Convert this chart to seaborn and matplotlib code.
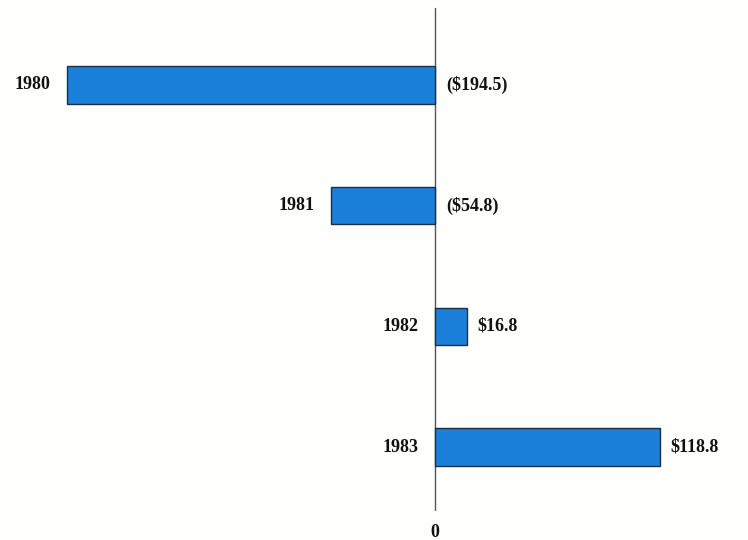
import matplotlib
matplotlib.use("Agg")
import matplotlib.pyplot as plt
import seaborn as sns
import pandas as pd

years = ["1980", "1981", "1982", "1983"]
values = [-194.5, -54.8, 16.8, 118.8]
value_labels = ["($194.5)", "($54.8)", "$16.8", "$118.8"]

sns.set_style("white")
plt.rcParams["font.family"] = ["Liberation Serif", "DejaVu Serif"]

df = pd.DataFrame({"year": years, "value": values})

fig = plt.figure(figsize=(7.48, 5.40), dpi=100)
ax = fig.add_axes([0, 0, 1, 1])
sns.barplot(data=df, x="value", y="year", orient="h", color="#1b80da",
            saturation=1, width=0.31, edgecolor="#1d2f45", linewidth=1.0, ax=ax)

ax.set_xlim(-435 / 1.89, (748 - 435) / 1.89)
ax.set_ylim(3.77, -0.704)
ax.axvline(0, ymin=1 - (3.52 + 0.704) / (3.77 + 0.704), ymax=1 - (-0.638 + 0.704) / (3.77 + 0.704),
           color="#555555", linewidth=1.0, zorder=0)

for i, (v, yl, vl) in enumerate(zip(values, years, value_labels)):
    left = min(v, 0)
    right = max(v, 0)
    ax.annotate(yl, (left, i), xytext=(-12, 0), textcoords="offset points",
                ha="right", va="center", fontsize=13, fontweight="bold", color="#111111")
    ax.annotate(vl, (right, i), xytext=(8, 0), textcoords="offset points",
                ha="left", va="center", fontsize=13, fontweight="bold", color="#111111")

ax.text(0, 3.71, "0", ha="center", va="center", fontsize=13, fontweight="bold", color="#111111")

ax.set_xlabel("")
ax.set_ylabel("")
ax.set_xticks([])
ax.set_yticks([])
for s in ax.spines.values():
    s.set_visible(False)

fig.patch.set_facecolor("#fefefc")
ax.set_facecolor("#fefefc")
fig.savefig("out.png", dpi=100, facecolor=fig.get_facecolor())
